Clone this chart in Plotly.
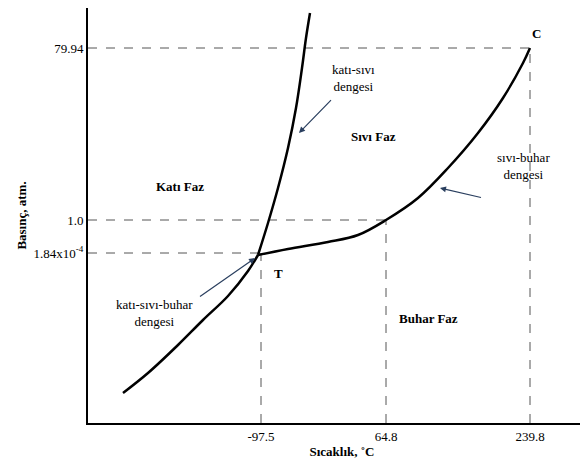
import plotly.graph_objects as go

# pixel-style schematic coordinates (x from left axis, y from bottom axis)
sl_x = [170, 180, 190, 200, 208, 214, 218, 222]
sl_y = [168, 200, 235, 275, 315, 355, 385, 410]
lv_x = [170, 200, 240, 270, 298, 330, 360, 390, 415, 435, 442]
lv_y = [168, 174, 181, 188, 203, 225, 255, 290, 325, 360, 375]
sub_x = [35, 60, 90, 115, 140, 160, 170]
sub_y = [30, 50, 78, 103, 127, 152, 168]

x_ticks = [173, 298, 442]
x_labels = ["-97.5", "64.8", "239.8"]
y_ticks = [375, 203, 170]
y_labels = ["79.94", "1.0", "1.84x10<sup>-4</sup>"]

F = dict(family="Liberation Serif", color="black")
fig = go.Figure()
dash = dict(color="#555", width=1, dash="dash")
for xs, ys in [([0, 442], [375, 375]), ([0, 298], [203, 203]), ([0, 170], [170, 170]),
               ([173, 173], [0, 170]), ([298, 298], [0, 203]), ([442, 442], [0, 375])]:
    fig.add_trace(go.Scatter(x=xs, y=ys, mode="lines", line=dash, hoverinfo="skip"))
for xs, ys in [(sl_x, sl_y), (lv_x, lv_y), (sub_x, sub_y)]:
    fig.add_trace(go.Scatter(x=xs, y=ys, mode="lines", line=dict(color="black", width=2.5, shape="spline")))

ann = [
    dict(x=448, y=390, text="<b>C</b>"),
    dict(x=190, y=150, text="<b>T</b>"),
    dict(x=285, y=287, text="<b>Sıvı Faz</b>"),
    dict(x=92, y=237, text="<b>Katı Faz</b>"),
    dict(x=340, y=105, text="<b>Buhar Faz</b>"),
    dict(x=265, y=345, text="katı-sıvı<br>dengesi"),
    dict(x=435, y=257, text="sıvı-buhar<br>dengesi"),
    dict(x=66, y=110, text="katı-sıvı-buhar<br>dengesi"),
]
for a in ann:
    fig.add_annotation(showarrow=False, font=dict(size=13, **F), **a)
# arrows
for (x, y, ax, ay) in [(211, 290, 245, 325), (352, 235, 395, 225), (167, 165, 110, 125)]:
    fig.add_annotation(x=x, y=y, ax=ax, ay=ay, axref="x", ayref="y", showarrow=True,
                       arrowhead=2, arrowwidth=1.2, text=" ", font=dict(size=2))

fig.update_layout(
    width=588, height=467, showlegend=False, plot_bgcolor="white", paper_bgcolor="white",
    margin=dict(l=80, r=0, t=0, b=52), font=dict(size=13, **F),
    xaxis=dict(range=[0, 508], tickvals=x_ticks, ticktext=x_labels, showgrid=False, zeroline=False,
               showline=True, linecolor="black", linewidth=2, ticks="", automargin=False,
               tickfont=dict(size=13, **F),
               title=dict(text="<b>Sıcaklık, ˚C</b>", font=dict(size=13, **F), standoff=4)),
    yaxis=dict(range=[0, 415], tickvals=y_ticks, ticktext=y_labels, showgrid=False, zeroline=False,
               showline=True, linecolor="black", linewidth=2, ticks="", automargin=False,
               tickfont=dict(size=13, **F),
               title=dict(text="<b>Basınç, atm.</b>", font=dict(size=13, **F), standoff=4)),
)
fig.write_html("out.html")
